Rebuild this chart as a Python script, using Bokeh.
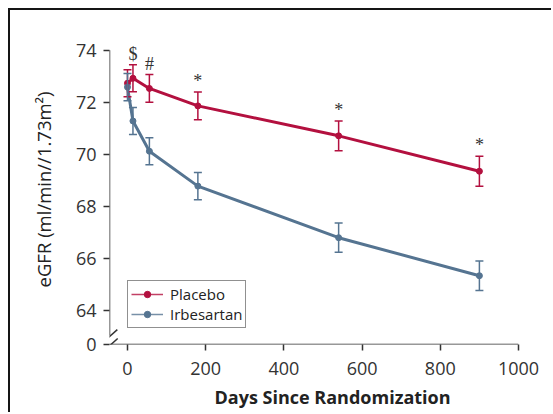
from bokeh.plotting import figure
from bokeh.models import (Range1d, FixedTicker, Whisker, TeeHead, ColumnDataSource,
                          LabelSet, Legend, LegendItem, Arrow, Title)
from bokeh.embed import file_html
from bokeh.resources import INLINE

# ---- data ----
days = [0, 14, 56, 180, 540, 900]
placebo_mean = [72.73, 72.92, 72.53, 71.86, 70.71, 69.35]
placebo_err = [0.52, 0.52, 0.53, 0.53, 0.57, 0.58]
irbesartan_mean = [72.58, 71.28, 70.12, 68.78, 66.80, 65.34]
irbesartan_err = [0.52, 0.52, 0.52, 0.52, 0.56, 0.57]
sig_days = [14, 56, 180, 540, 900]
sig_marks = ["$", "#", "*", "*", "*"]
x_ticks = [0, 200, 400, 600, 800, 1000]
y_ticks = [64, 66, 68, 70, 72, 74]
y_break_label = "0"

RED = "#b3103f"
BLUE = "#557491"
AX = "#333333"
FONT = "Open Sans"
NAN = float("nan")

X0, X1 = -46, 1000
Y0, Y1 = 62.70, 74.6          # frame range (a little headroom above the top tick)
Y_AXIS_TOP = max(y_ticks)

p = figure(width=543, height=404, output_backend="svg", toolbar_location=None,
           x_range=Range1d(X0, X1), y_range=Range1d(Y0, Y1),
           min_border_left=99, min_border_right=35, min_border_top=24, min_border_bottom=70)
p.styles = {"margin-left": "8px", "margin-top": "8px",
            "border-top": "2px solid #151515", "border-left": "2px solid #151515"}
p.grid.visible = False
p.outline_line_color = None
p.background_fill_color = "white"
p.border_fill_color = "white"

def src(mean, err):
    return ColumnDataSource(dict(x=days, y=mean,
                                 upper=[m + e for m, e in zip(mean, err)],
                                 lower=[m - e for m, e in zip(mean, err)]))

sp = src(placebo_mean, placebo_err)
si = src(irbesartan_mean, irbesartan_err)

items = []
for s, col, name in [(sp, RED, "Placebo"), (si, BLUE, "Irbesartan")]:
    w = Whisker(base="x", upper="upper", lower="lower", source=s, line_color=col, line_width=1.5,
                upper_head=TeeHead(size=8, line_color=col, line_width=1.5),
                lower_head=TeeHead(size=8, line_color=col, line_width=1.5), level="glyph")
    p.add_layout(w)
    p.line("x", "y", source=s, line_color=col, line_width=3)
    p.scatter("x", "y", source=s, size=6, fill_color=col, line_color=col)
    # thin legend-only glyphs (not drawn in the plot area)
    lg1 = p.line([NAN], [NAN], line_color=col, line_width=1.3, line_alpha=0.8)
    lg2 = p.scatter([NAN], [NAN], size=5.5, fill_color=col, line_color=col)
    items.append(LegendItem(label=name, renderers=[lg1, lg2]))

# significance marks
sig_y = [placebo_mean[days.index(d)] + placebo_err[days.index(d)] for d in sig_days]
ls = LabelSet(x="x", y="y", text="t", source=ColumnDataSource(dict(x=sig_days, y=sig_y, t=sig_marks)),
              text_align="center", text_baseline="alphabetic", y_offset=5,
              text_font=FONT, text_font_size="18px", text_color=AX)
p.add_layout(ls)

# axes
p.xaxis.ticker = FixedTicker(ticks=x_ticks)
p.yaxis.ticker = FixedTicker(ticks=[Y0] + y_ticks)
p.yaxis.major_label_overrides = {Y0: y_break_label}
for ax in (p.xaxis[0], p.yaxis[0]):
    ax.axis_line_color = None
    ax.major_tick_line_color = AX
    ax.major_tick_line_width = 1.5
    ax.major_tick_in = 0
    ax.major_tick_out = 6
    ax.minor_tick_line_color = None
    ax.major_label_text_font = FONT
    ax.major_label_text_font_size = "18px"
    ax.major_label_text_color = AX
p.xaxis.major_label_standoff = 11
p.yaxis.major_label_standoff = 7

p.yaxis.axis_label = "eGFR (ml/min//1.73m\u00b2)"
p.yaxis.axis_label_text_font = FONT
p.yaxis.axis_label_text_font_size = "18.5px"
p.yaxis.axis_label_text_font_style = "normal"
p.yaxis.axis_label_text_color = "#222222"
p.yaxis.axis_label_standoff = 17

p.add_layout(Title(text="Days Since Randomization", align="left", offset=105,
                   text_font=FONT, text_font_size="18px", text_font_style="bold",
                   text_color="#222222", standoff=10), "below")

# axis lines with a break
p.add_layout(Arrow(end=None, x_start=X0, y_start=63.05, x_end=X0, y_end=Y_AXIS_TOP,
                   line_color=AX, line_width=1.5))
p.add_layout(Arrow(end=None, x_start=-56, y_start=Y0, x_end=X1, y_end=Y0,
                   line_color=AX, line_width=1.5))
p.add_layout(Arrow(end=None, x_start=-67, y_start=62.73, x_end=-26, y_end=63.27,
                   line_color=AX, line_width=1.5))
p.add_layout(Arrow(end=None, x_start=-67, y_start=62.37, x_end=-25, y_end=62.93,
                   line_color=AX, line_width=1.5))

legend = Legend(items=items, location=(18, 16), orientation="vertical",
                border_line_color="#222222", border_line_width=1.5,
                label_text_font=FONT, label_text_font_size="15px", label_text_color="#222222",
                label_text_line_height=0.9,
                glyph_width=32, glyph_height=16, label_height=16, label_standoff=7,
                padding=3, spacing=0, margin=0, background_fill_alpha=1)
p.add_layout(legend, "center")

open("out.html", "w").write(file_html(p, INLINE))
